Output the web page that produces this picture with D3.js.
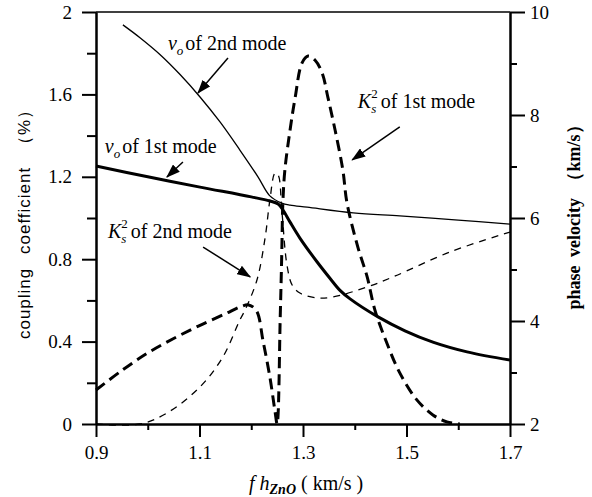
<!DOCTYPE html>
<html>
<head>
<meta charset="utf-8">
<script src="https://cdn.jsdelivr.net/npm/d3@7"></script>
<style>
  body { margin: 0; background: #fff; }
  svg { display: block; font-family: "Liberation Serif", "Times New Roman", serif; }
  svg text { font-family: "Liberation Serif", "Times New Roman", serif; }
  svg text.sans { font-family: "Liberation Sans", Arial, sans-serif; }
</style>
</head>
<body>
<div id="chart"></div>
<script>
/* coupling coefficient and phase velocity vs f*h_ZnO */

// phase velocity of the 2nd mode (right axis, km/s)
const v2X = [0.952, 0.985, 1.024, 1.062, 1.101, 1.140, 1.178, 1.213, 1.236, 1.259, 1.275, 1.308, 1.397, 1.487, 1.6, 1.7];
const v2Y = [9.75, 9.50, 9.17, 8.79, 8.35, 7.86, 7.32, 6.80, 6.43, 6.29, 6.25, 6.21, 6.10, 6.04, 5.96, 5.88];

// phase velocity of the 1st mode (right axis, km/s)
const v1X = [0.9, 1.0, 1.101, 1.2, 1.236, 1.252, 1.261, 1.275, 1.294, 1.327, 1.352, 1.371, 1.391, 1.445, 1.497, 1.551, 1.617, 1.7];
const v1Y = [7.01, 6.80, 6.60, 6.41, 6.33, 6.27, 6.16, 5.92, 5.61, 5.15, 4.83, 4.60, 4.43, 4.08, 3.81, 3.59, 3.40, 3.24];

// K_s^2 of the 1st mode (left axis, %)
const k1X = [0.9, 0.95, 1.0, 1.05, 1.1, 1.15, 1.18, 1.195, 1.21, 1.223, 1.236, 1.246, 1.25,
             1.256, 1.259, 1.261, 1.265, 1.275, 1.285, 1.298, 1.31, 1.323, 1.337, 1.348, 1.362,
             1.377, 1.385, 1.406, 1.424, 1.439, 1.462, 1.487, 1.52, 1.551, 1.578, 1.603];
const k1Y = [0.165, 0.26, 0.345, 0.415, 0.478, 0.535, 0.57, 0.578, 0.55, 0.40, 0.228, 0.06, 0.0,
             0.52, 0.83, 1.07, 1.233, 1.427, 1.587, 1.752, 1.786, 1.767, 1.704, 1.587, 1.427,
             1.233, 1.073, 0.859, 0.714, 0.553, 0.393, 0.248, 0.117, 0.044, 0.01, 0.0];

// K_s^2 of the 2nd mode (left axis, %)
const k2X = [0.9, 0.985, 1.037, 1.101, 1.145, 1.178, 1.188, 1.211, 1.227, 1.236, 1.246, 1.252,
             1.259, 1.269, 1.279, 1.294, 1.327, 1.358, 1.424, 1.474, 1.584, 1.7];
const k2Y = [0.0, 0.0, 0.053, 0.18, 0.325, 0.505, 0.553, 0.699, 0.908, 1.087, 1.218, 1.209,
             1.039, 0.772, 0.675, 0.636, 0.612, 0.617, 0.665, 0.714, 0.835, 0.932];

// ticks
const xTicks = [0.9, 1.1, 1.3, 1.5, 1.7];
const xMinor = [1.0, 1.2, 1.4, 1.6];
const leftTicks = [0, 0.4, 0.8, 1.2, 1.6, 2];
const leftMinor = [0.2, 0.6, 1.0, 1.4, 1.8];
const rightTicks = [2, 4, 6, 8, 10];
const rightMinor = [3, 5, 7, 9];

const width = 592,
      height = 497,
      margin = ({top: 12, right: 82, bottom: 73, left: 96});

let svg = d3.select("#chart")
    .append("svg")
    .attr("width", width)
    .attr("height", height)
    .attr("viewBox", [0, 0, width, height]);

let x = d3.scaleLinear()
    .domain([0.9, 1.7])
    .range([margin.left, width - margin.right]);

let yL = d3.scaleLinear()   // coupling coefficient
    .domain([0, 2])
    .range([height - margin.bottom, margin.top]);

let yR = d3.scaleLinear()   // phase velocity
    .domain([2, 10])
    .range([height - margin.bottom, margin.top]);

const fmt = d => String(d);

// axes: major ticks with labels, minor ticks without
const styleAxis = g => {
    g.attr("font-family", null);
    g.select(".domain").attr("stroke-width", 2);
    g.selectAll(".tick line").attr("stroke-width", 2);
    g.selectAll(".tick text")
        .attr("font-size", 19)
        .attr("fill", "#000");
};

svg.append("g")
    .attr("transform", `translate(0, ${height - margin.bottom})`)
    .call(d3.axisBottom(x).tickValues(xMinor).tickSize(6).tickSizeOuter(0).tickFormat(""))
    .call(styleAxis);
svg.append("g")
    .attr("transform", `translate(0, ${height - margin.bottom})`)
    .call(d3.axisBottom(x).tickValues(xTicks).tickSize(13).tickSizeOuter(0).tickPadding(9).tickFormat(fmt))
    .call(styleAxis);

svg.append("g")
    .attr("transform", `translate(${margin.left}, 0)`)
    .call(d3.axisLeft(yL).tickValues(leftMinor).tickSize(9).tickSizeOuter(0).tickFormat(""))
    .call(styleAxis);
svg.append("g")
    .attr("transform", `translate(${margin.left}, 0)`)
    .call(d3.axisLeft(yL).tickValues(leftTicks).tickSize(14).tickSizeOuter(0).tickPadding(10).tickFormat(fmt))
    .call(styleAxis);

svg.append("g")
    .attr("transform", `translate(${width - margin.right}, 0)`)
    .call(d3.axisRight(yR).tickValues(rightMinor).tickSize(7).tickSizeOuter(0).tickFormat(""))
    .call(styleAxis);
svg.append("g")
    .attr("transform", `translate(${width - margin.right}, 0)`)
    .call(d3.axisRight(yR).tickValues(rightTicks).tickSize(15).tickSizeOuter(0).tickPadding(5).tickFormat(fmt))
    .call(styleAxis);

// top frame line
svg.append("line")
    .attr("x1", x(0.9)).attr("x2", x(1.7))
    .attr("y1", yL(2)).attr("y2", yL(2))
    .attr("stroke", "#000")
    .attr("stroke-width", 1.5);

// curves
const series = [
    {xs: v2X, ys: v2Y, y: yR, w: 1.3, dash: null},
    {xs: v1X, ys: v1Y, y: yR, w: 3, dash: null},
    {xs: k1X, ys: k1Y, y: yL, w: 3, dash: "11,6"},
    {xs: k2X, ys: k2Y, y: yL, w: 1.3, dash: "7,6"}
];

for (let s of series) {
    let line = d3.line()
        .x((d, i) => x(s.xs[i]))
        .y(d => s.y(d))
        .curve(d3.curveCatmullRom.alpha(0.5));
    svg.append("path")
        .attr("d", line(s.ys))
        .attr("fill", "none")
        .attr("stroke", "#000")
        .attr("stroke-width", s.w)
        .attr("stroke-dasharray", s.dash);
}

// arrow head
svg.append("defs").append("marker")
    .attr("id", "arrow")
    .attr("markerUnits", "userSpaceOnUse")
    .attr("viewBox", "0 0 14 10")
    .attr("refX", 13).attr("refY", 5)
    .attr("markerWidth", 14).attr("markerHeight", 10)
    .attr("orient", "auto")
    .append("path")
    .attr("d", "M0,0 L14,5 L0,10 z")
    .attr("fill", "#000");

// annotations, positioned in data units (left axis)
const notes = [
    {sym: "v", sub: "o", sup: null, rest: "of 2nd mode", tx: 1.039, ty: 1.816, from: [1.155, 1.777], to: [1.097, 1.607]},
    {sym: "v", sub: "o", sup: null, rest: "of 1st mode", tx: 0.917, ty: 1.316, from: [1.068, 1.272], to: [1.037, 1.199]},
    {sym: "K", sub: "s", sup: "2", rest: "of 1st mode", tx: 1.406, ty: 1.534, from: [1.487, 1.442], to: [1.395, 1.282]},
    {sym: "K", sub: "s", sup: "2", rest: "of 2nd mode", tx: 0.923, ty: 0.903, from: [1.107, 0.859], to: [1.198, 0.714]}
];

for (let n of notes) {
    let t = svg.append("text")
        .attr("x", x(n.tx))
        .attr("y", yL(n.ty))
        .attr("font-size", 20)
        .attr("fill", "#000");
    t.append("tspan").attr("font-style", "italic").text(n.sym);
    t.append("tspan").attr("font-style", "italic").attr("font-size", 13).attr("dy", 5).text(n.sub);
    if (n.sup) {
        t.append("tspan").attr("font-size", 13).attr("dx", -5).attr("dy", -15).text(n.sup);
        t.append("tspan").attr("dx", 3).attr("dy", 10).text(n.rest);
    } else {
        t.append("tspan").attr("dx", 2).attr("dy", -5).text(n.rest);
    }

    svg.append("line")
        .attr("x1", x(n.from[0])).attr("y1", yL(n.from[1]))
        .attr("x2", x(n.to[0])).attr("y2", yL(n.to[1]))
        .attr("stroke", "#000")
        .attr("stroke-width", 1.5)
        .attr("marker-end", "url(#arrow)");
}

// axis titles
let xt = svg.append("text")
    .attr("x", 249)
    .attr("y", 490)
    .attr("font-size", 20)
    .attr("fill", "#000");
xt.append("tspan").attr("font-style", "italic").text("f h");
xt.append("tspan").attr("font-style", "italic").attr("font-weight", "bold").attr("font-size", 14).attr("dy", 4).text("ZnO");
xt.append("tspan").attr("dy", -4).text(" ( km/s )");

svg.append("text")
    .attr("class", "sans")
    .attr("transform", "translate(30, 220) rotate(-90)")
    .attr("text-anchor", "middle")
    .attr("font-size", 17)
    .attr("letter-spacing", 1)
    .attr("word-spacing", 8)
    .attr("fill", "#000")
    .text("coupling coefficient （%）");

svg.append("text")
    .attr("transform", "translate(580, 213) rotate(-90)")
    .attr("text-anchor", "middle")
    .attr("font-size", 18)
    .attr("font-weight", "bold")
    .attr("word-spacing", 4)
    .attr("fill", "#000")
    .text("phase velocity （km/s）");
</script>
</body>
</html>
